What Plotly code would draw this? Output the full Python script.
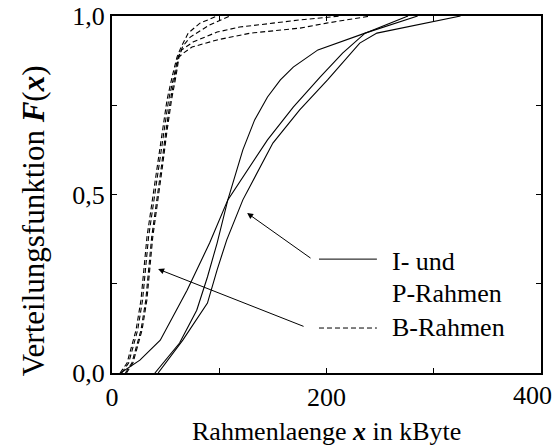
import plotly.graph_objects as go

# ---- data (x in kByte, F(x)) ----
# I- and P-frames (solid)
ip1_x = [8, 26, 45, 70, 91, 108, 122, 133, 145, 157, 169, 192, 236, 285]
ip1_y = [0.0, 0.036, 0.092, 0.232, 0.364, 0.485, 0.625, 0.709, 0.773, 0.821, 0.857, 0.905, 0.952, 1.0]
ip2_x = [40, 63, 79, 89, 98, 108, 145, 169, 194, 215, 236, 276]
ip2_y = [0.0, 0.084, 0.176, 0.269, 0.364, 0.485, 0.653, 0.745, 0.829, 0.896, 0.952, 1.0]
ip3_x = [43, 66, 89, 98, 107, 122, 150, 175, 201, 231, 247, 325]
ip3_y = [0.0, 0.092, 0.196, 0.289, 0.373, 0.485, 0.644, 0.737, 0.821, 0.924, 0.952, 1.0]

# B-frames (dashed)
b1_x = [7.5, 14.0, 22.4, 27.0, 32.6, 37.3, 42.0, 46.6, 51.3, 56.0, 60.6, 64, 71, 82, 98]
b1_y = [0.0, 0.028, 0.12, 0.204, 0.381, 0.476, 0.577, 0.672, 0.765, 0.829, 0.885, 0.91, 0.952, 0.98, 1.0]
b2_x = [12.5, 18.5, 27.0, 31.5, 37.0, 41.5, 46.0, 50.0, 54.5, 58.5, 62.0, 66, 73, 91, 110]
b2_y = [0.0, 0.028, 0.12, 0.204, 0.381, 0.476, 0.577, 0.672, 0.765, 0.829, 0.885, 0.915, 0.941, 0.975, 1.0]
b3_x = [9.0, 15.5, 23.9, 28.5, 34.1, 38.8, 43.5, 48.1, 52.8, 57.5, 61.6, 65, 75.5, 98, 119, 150, 175, 213]
b3_y = [0.0, 0.028, 0.12, 0.204, 0.381, 0.476, 0.577, 0.672, 0.765, 0.829, 0.885, 0.905, 0.927, 0.955, 0.969, 0.98, 0.989, 1.0]
b4_x = [13.5, 19.5, 28.0, 32.5, 38.0, 42.5, 47.0, 51.0, 55.5, 59.5, 62.5, 66, 74.6, 98, 129, 175, 200, 241]
b4_y = [0.0, 0.028, 0.12, 0.204, 0.381, 0.476, 0.577, 0.672, 0.765, 0.829, 0.885, 0.895, 0.913, 0.933, 0.952, 0.966, 0.98, 1.0]

x_ticks = [0, 100, 200, 300, 400]
x_ticktext = ["0", "", "200", "", ""]   # "400" placed separately so it stays inside the page
x_last_label = "400"
y_ticks = [0, 0.25, 0.5, 0.75, 1.0]
y_ticktext = ["0,0", "", "0,5", "", "1,0"]

legend_labels = ["I- und", "P-Rahmen", "B-Rahmen"]

FONT = "Liberation Serif, Times New Roman, Times, serif"

fig = go.Figure()
for xs, ys in [(ip1_x, ip1_y), (ip2_x, ip2_y), (ip3_x, ip3_y)]:
    fig.add_trace(go.Scatter(x=xs, y=ys, mode="lines",
                             line=dict(color="black", width=1.1),
                             showlegend=False, hoverinfo="skip"))
for xs, ys in [(b1_x, b1_y), (b2_x, b2_y), (b3_x, b3_y), (b4_x, b4_y)]:
    fig.add_trace(go.Scatter(x=xs, y=ys, mode="lines",
                             line=dict(color="black", width=1.1, dash="5px,3px"),
                             showlegend=False, hoverinfo="skip"))

# legend key lines (decoration)
fig.add_shape(type="line", x0=193, x1=247, y0=0.319, y1=0.319,
              line=dict(color="black", width=1))
fig.add_shape(type="line", x0=193, x1=247, y0=0.126, y1=0.126,
              line=dict(color="black", width=1, dash="5px,3px"))

for label, yy in zip(legend_labels, [0.311, 0.224, 0.128]):
    fig.add_annotation(x=259, y=yy, xref="x", yref="y", text=label,
                       showarrow=False, xanchor="left", yanchor="middle",
                       font=dict(family=FONT, size=26, color="black"))

# arrows
fig.add_annotation(x=126, y=0.448, ax=186.5, ay=0.319, xref="x", yref="y",
                   axref="x", ayref="y", text="", showarrow=True,
                   arrowhead=2, arrowsize=1.2, arrowwidth=1, arrowcolor="black")
fig.add_annotation(x=43, y=0.291, ax=180, ay=0.129, xref="x", yref="y",
                   axref="x", ayref="y", text="", showarrow=True,
                   arrowhead=2, arrowsize=1.2, arrowwidth=1, arrowcolor="black")

# last x tick label, right-aligned near the page edge
fig.add_annotation(x=x_ticks[-1], y=0, xref="x", yref="y", text=x_last_label,
                   showarrow=False, xanchor="right", yanchor="middle",
                   xshift=13, yshift=-22,
                   font=dict(family=FONT, size=26, color="black"))

# axis titles
fig.add_annotation(x=0.5, y=-0.165, xref="paper", yref="paper",
                   text="Rahmenlaenge <b><i>x</i></b> in kByte", showarrow=False,
                   xanchor="center", yanchor="middle",
                   font=dict(family=FONT, size=26, color="black"))
fig.add_annotation(x=-0.184, y=0.425, xref="paper", yref="paper",
                   text="Verteilungsfunktion <b><i>F</i></b>(<b><i>x</i></b>)",
                   showarrow=False, textangle=-90,
                   xanchor="center", yanchor="middle",
                   font=dict(family=FONT, size=31, color="black"))

axis_common = dict(showgrid=False, zeroline=False, showline=True, linecolor="black",
                   linewidth=2, mirror="allticks", ticks="inside", ticklen=5,
                   tickwidth=1, tickcolor="black", ticklabeloverflow="allow",
                   automargin=False,
                   tickfont=dict(family=FONT, size=26, color="black"))

fig.update_xaxes(range=[0, 400], tickvals=x_ticks, ticktext=x_ticktext, **axis_common)
fig.update_yaxes(range=[0, 1], tickvals=y_ticks, ticktext=y_ticktext, **axis_common)

fig.update_layout(width=560, height=447, margin=dict(l=112, r=19, t=16, b=74),
                  plot_bgcolor="white", paper_bgcolor="white",
                  font=dict(family=FONT, color="black"))

fig.write_html("out.html")
